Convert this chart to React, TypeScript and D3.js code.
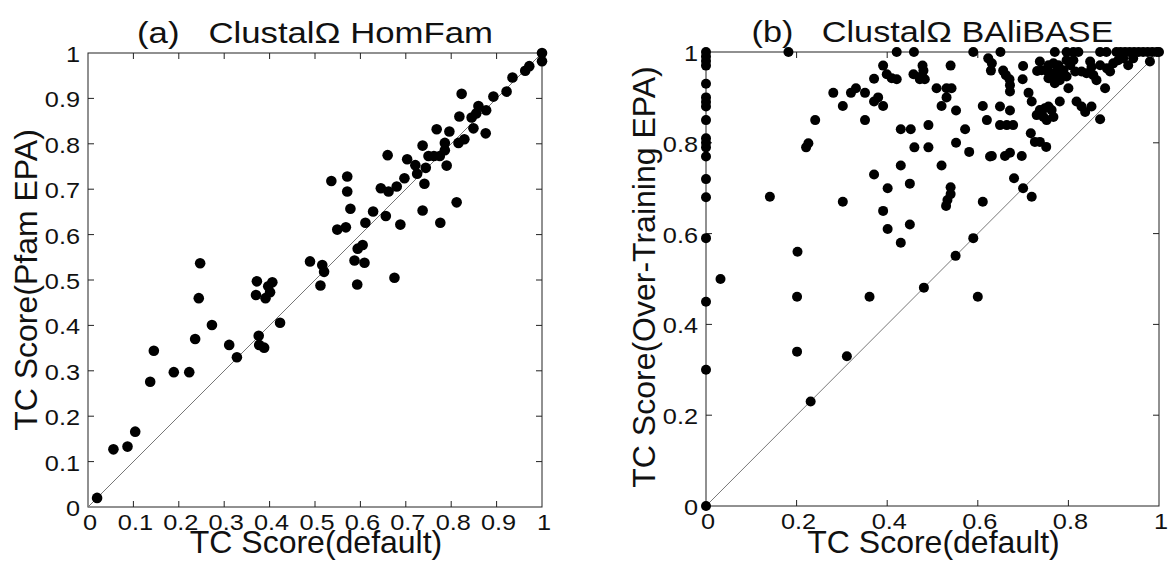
import React, { useEffect, useRef } from "react"
import * as d3 from "d3"

// (a) ClustalΩ HomFam: [TC default, TC Pfam EPA]
const homfamPoints: [number, number][] = [
  [0.02, 0.02], [0.056, 0.127], [0.087, 0.133], [0.104, 0.166], [0.137, 0.276],
  [0.145, 0.344], [0.189, 0.297], [0.223, 0.297], [0.236, 0.37], [0.244, 0.46],
  [0.247, 0.537], [0.273, 0.401], [0.311, 0.357], [0.328, 0.33], [0.372, 0.497],
  [0.37, 0.467], [0.376, 0.377], [0.377, 0.357], [0.388, 0.351], [0.391, 0.46],
  [0.401, 0.473], [0.406, 0.495], [0.397, 0.486], [0.423, 0.406], [0.489, 0.541],
  [0.516, 0.533], [0.52, 0.518], [0.512, 0.488], [0.549, 0.611], [0.568, 0.616],
  [0.536, 0.718], [0.571, 0.728], [0.571, 0.695], [0.578, 0.657], [0.611, 0.626],
  [0.628, 0.651], [0.587, 0.543], [0.609, 0.538], [0.593, 0.49], [0.594, 0.569],
  [0.605, 0.577], [0.675, 0.505], [0.656, 0.641], [0.688, 0.622], [0.645, 0.702],
  [0.662, 0.695], [0.68, 0.706], [0.697, 0.724], [0.66, 0.775], [0.703, 0.766],
  [0.721, 0.753], [0.725, 0.734], [0.744, 0.747], [0.741, 0.712], [0.737, 0.653],
  [0.776, 0.626], [0.75, 0.773], [0.762, 0.773], [0.775, 0.773], [0.737, 0.796],
  [0.768, 0.832], [0.786, 0.802], [0.786, 0.786], [0.79, 0.752], [0.796, 0.827],
  [0.812, 0.671], [0.816, 0.802], [0.818, 0.86], [0.823, 0.91], [0.829, 0.81],
  [0.845, 0.858], [0.849, 0.834], [0.855, 0.867], [0.86, 0.883], [0.876, 0.823],
  [0.877, 0.874], [0.893, 0.904], [0.922, 0.915], [0.935, 0.946], [0.963, 0.961],
  [0.972, 0.971], [1.0, 1.0], [1.0, 0.982],
]

// (b) ClustalΩ BAliBASE: [TC default, TC Over-Training EPA]
const balibasePoints: [number, number][] = [
  [0, 1], [0, 0.99], [0, 0.98], [0, 0.97], [0, 0.93], [0, 0.9], [0, 0.89], [0, 0.88],
  [0, 0.85], [0, 0.81], [0, 0.8], [0, 0.79], [0, 0.77], [0, 0.72], [0, 0.68], [0, 0.59],
  [0, 0.45], [0, 0.3], [0, 0],
  [0.032, 0.5], [0.141, 0.681], [0.182, 1.0], [0.201, 0.461], [0.201, 0.34], [0.202, 0.56],
  [0.221, 0.79], [0.226, 0.799], [0.231, 0.23], [0.241, 0.85], [0.281, 0.91], [0.302, 0.881],
  [0.302, 0.67], [0.311, 0.33], [0.32, 0.91], [0.331, 0.92], [0.351, 0.91], [0.351, 0.85],
  [0.361, 0.461], [0.371, 0.941], [0.371, 0.891], [0.38, 0.9], [0.391, 0.881], [0.371, 0.73],
  [0.391, 0.97], [0.391, 0.65], [0.399, 0.951], [0.41, 0.942], [0.421, 0.94], [0.401, 0.7],
  [0.401, 0.61], [0.421, 1.0], [0.459, 1.0], [0.43, 0.83], [0.452, 0.83], [0.43, 0.75],
  [0.43, 0.58], [0.45, 0.71], [0.45, 0.62], [0.458, 0.951], [0.472, 0.94], [0.483, 0.94],
  [0.46, 0.79], [0.491, 0.79], [0.478, 0.97], [0.48, 0.959], [0.476, 0.947], [0.481, 0.481],
  [0.491, 0.839], [0.509, 0.92], [0.531, 0.92], [0.542, 0.92], [0.531, 0.9], [0.52, 0.881],
  [0.52, 0.75], [0.54, 0.97], [0.54, 0.702], [0.54, 0.687], [0.533, 0.674], [0.53, 0.661],
  [0.551, 0.551], [0.552, 0.871], [0.552, 0.8], [0.572, 0.83], [0.581, 0.78], [0.59, 0.59],
  [0.59, 1.0], [0.6, 0.461], [0.611, 0.881], [0.611, 0.67], [0.62, 0.85], [0.627, 0.77],
  [0.623, 0.986], [0.631, 0.975], [0.629, 0.959], [0.65, 1.0], [0.649, 0.88], [0.671, 0.871],
  [0.649, 0.839], [0.664, 0.839], [0.678, 0.839], [0.656, 0.959], [0.662, 0.949], [0.67, 0.94],
  [0.671, 0.927], [0.671, 0.913], [0.631, 0.771], [0.66, 0.771], [0.671, 0.778], [0.697, 0.771],
  [0.68, 0.722], [0.7, 0.7], [0.719, 0.681], [0.7, 0.969], [0.699, 0.94], [0.712, 0.91],
  [0.719, 0.891], [0.717, 0.821], [0.726, 0.802], [0.737, 0.802], [0.751, 0.791], [0.737, 0.979],
  [0.741, 0.96], [0.731, 0.958], [0.737, 0.872], [0.748, 0.876], [0.756, 0.88], [0.763, 0.872],
  [0.73, 0.861], [0.745, 0.857], [0.752, 0.85], [0.767, 0.857], [0.756, 0.971], [0.767, 0.975],
  [0.778, 0.971], [0.754, 0.957], [0.763, 0.953], [0.774, 0.957], [0.785, 0.953], [0.756, 0.942],
  [0.77, 0.942], [0.781, 0.938], [0.77, 0.931], [0.77, 1.0], [0.796, 1.0], [0.811, 1.0],
  [0.822, 1.0], [0.796, 0.982], [0.811, 0.982], [0.804, 0.971], [0.789, 0.96], [0.796, 0.946],
  [0.815, 0.957], [0.829, 0.957], [0.84, 0.953], [0.855, 0.949], [0.851, 0.967], [0.848, 0.979],
  [0.862, 0.938], [0.8, 0.92], [0.781, 0.891], [0.818, 0.891], [0.829, 0.88], [0.837, 0.868],
  [0.851, 0.88], [0.87, 0.852], [0.881, 0.92], [0.87, 1.0], [0.884, 1.0], [0.87, 0.971],
  [0.885, 0.964], [0.892, 0.957], [0.899, 0.975], [0.91, 0.982], [0.921, 0.986], [0.932, 0.971],
  [0.943, 0.986], [0.98, 0.979], [0.906, 1], [0.915, 1], [0.925, 1], [0.935, 1], [0.945, 1],
  [0.955, 1], [0.965, 1], [0.975, 1], [0.985, 1], [0.995, 1], [1, 1],
]

const homfamTicks = [0, 0.1, 0.2, 0.3, 0.4, 0.5, 0.6, 0.7, 0.8, 0.9, 1]
const homfamTickLabels = ["0", "0.1", "0.2", "0.3", "0.4", "0.5", "0.6", "0.7", "0.8", "0.9", "1"]
const balibaseTicks = [0, 0.2, 0.4, 0.6, 0.8, 1]
const balibaseTickLabels = ["0", "0.2", "0.4", "0.6", "0.8", "1"]

const FONT = "'Liberation Sans', Arial, Helvetica, sans-serif"

function drawPanel(svg, p) {
  const x = d3.scaleLinear().domain([0, 1]).range([p.left, p.right])
  const y = d3.scaleLinear().domain([0, 1]).range([p.bottom, p.top])
  const g = svg.append("g")
  const tickLen = 6

  // frame
  g.append("rect")
    .attr("x", p.left).attr("y", p.top)
    .attr("width", p.right - p.left).attr("height", p.bottom - p.top)
    .attr("fill", "none").attr("stroke", "#222").attr("stroke-width", 1)

  // inward ticks
  p.ticks.forEach((t, i) => {
    if (i === 0 || i === p.ticks.length - 1) return
    g.append("line").attr("x1", x(t)).attr("x2", x(t)).attr("y1", p.bottom).attr("y2", p.bottom - tickLen).attr("stroke", "#222")
    g.append("line").attr("x1", x(t)).attr("x2", x(t)).attr("y1", p.top).attr("y2", p.top + tickLen).attr("stroke", "#222")
    g.append("line").attr("y1", y(t)).attr("y2", y(t)).attr("x1", p.left).attr("x2", p.left + tickLen).attr("stroke", "#222")
    g.append("line").attr("y1", y(t)).attr("y2", y(t)).attr("x1", p.right).attr("x2", p.right - tickLen).attr("stroke", "#222")
  })

  // tick labels
  p.ticks.forEach((t, i) => {
    g.append("text")
      .attr("transform", `translate(${x(t) + 2},${p.bottom + 23}) scale(1.15,1)`)
      .attr("text-anchor", "middle")
      .attr("font-size", 22)
      .text(p.tickLabels[i])
    g.append("text")
      .attr("transform", `translate(${p.left - 8},${y(t) + 9}) scale(1.15,1)`)
      .attr("text-anchor", "end")
      .attr("font-size", 22)
      .text(p.tickLabels[i])
  })

  // titles and axis labels
  g.append("text")
    .attr("x", (p.left + p.right) / 2).attr("y", p.top - 10)
    .attr("text-anchor", "middle").attr("font-size", 30)
    .attr("textLength", p.titleLen).attr("lengthAdjust", "spacingAndGlyphs")
    .text(p.title)
  g.append("text")
    .attr("x", (p.left + p.right) / 2 + 1).attr("y", 553)
    .attr("text-anchor", "middle").attr("font-size", 32)
    .text("TC Score(default)")
  g.append("text")
    .attr("transform", `translate(${p.ylabelX},${p.ylabelY}) rotate(-90)`)
    .attr("text-anchor", "middle").attr("font-size", 32)
    .text(p.ylabel)

  // diagonal
  g.append("line")
    .attr("x1", x(0)).attr("y1", y(0)).attr("x2", x(1)).attr("y2", y(1))
    .attr("stroke", "#777").attr("stroke-width", 1)

  g.selectAll("circle.pt")
    .data(p.points)
    .enter()
    .append("circle")
    .attr("class", "pt")
    .attr("cx", d => x(d[0]))
    .attr("cy", d => y(d[1]))
    .attr("r", p.r)
    .attr("fill", "#000")
}

export default function App() {
  const ref = useRef(null)

  useEffect(() => {
    const svg = d3.select(ref.current)
    svg.selectAll("*").remove()
    svg.attr("font-family", FONT).attr("fill", "#111")

    drawPanel(svg, {
      left: 88, right: 542, top: 53, bottom: 507,
      ticks: homfamTicks, tickLabels: homfamTickLabels,
      title: "(a)\u00a0\u00a0\u00a0ClustalΩ HomFam", titleLen: 356,
      ylabel: "TC Score(Pfam EPA)", ylabelX: 37, ylabelY: 280,
      points: homfamPoints, r: 5.3,
    })
    drawPanel(svg, {
      left: 706, right: 1159, top: 52, bottom: 506,
      ticks: balibaseTicks, tickLabels: balibaseTickLabels,
      title: "(b)\u00a0\u00a0\u00a0ClustalΩ BAliBASE", titleLen: 362,
      ylabel: "TC Score(Over-Training EPA)", ylabelX: 655, ylabelY: 277,
      points: balibasePoints, r: 5,
    })
  }, [])

  return (
    <svg
      ref={ref}
      width={1171}
      height={563}
      style={{ position: "absolute", left: 0, top: 0, background: "#fff" }}
    />
  )
}
